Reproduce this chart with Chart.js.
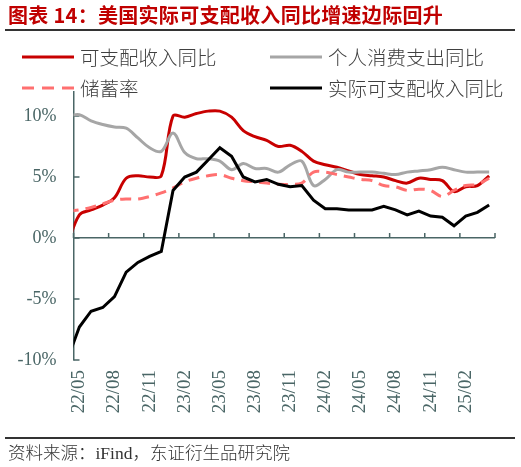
<!DOCTYPE html>
<html>
<head>
<meta charset="utf-8">
<script src="https://cdn.jsdelivr.net/npm/chart.js@4.4.1/dist/chart.umd.min.js"></script>
<style>
  html, body { margin: 0; padding: 0; background: #fff; }
  #wrap { position: relative; width: 521px; height: 467px; overflow: hidden;
          font-family: "Noto Sans CJK SC", sans-serif; }
  #chart { position: absolute; left: 0; top: 0; }
  .title { position: absolute; left: 8px; top: 3px; font-size: 20px; font-weight: 700;
           color: #c00000; white-space: nowrap; line-height: 24px; letter-spacing: 0.3px; }
  .rule { position: absolute; left: 5px; width: 510px; height: 1.5px; background: #333; }
  .leg { position: absolute; font-size: 19.5px; font-weight: 300; color: #404040;
         line-height: 24px; white-space: nowrap; }
  .swatch { position: absolute; }
  .source { position: absolute; left: 8px; top: 441px; font-size: 17.5px; font-weight: 300; color: #333;
            line-height: 22px; white-space: nowrap; }
</style>
</head>
<body>
<div id="wrap">
  <canvas id="chart" width="521" height="467"></canvas>
  <div class="title">图表 14：美国实际可支配收入同比增速边际回升</div>
  <div class="rule" style="top:29px"></div>
  <div id="legend"></div>
  <div class="rule" style="top:437px"></div>
  <div class="source">资料来源：<span style="font-family:'Liberation Serif',serif">iFind</span>，东证衍生品研究院</div>
</div>
<script>
// monthly, 22/04 .. 25/04 (22/04 sits just left of the plot and gets clipped)
const months = [
  '22/04', '22/05', '22/06', '22/07', '22/08', '22/09', '22/10', '22/11', '22/12',
  '23/01', '23/02', '23/03', '23/04', '23/05', '23/06', '23/07', '23/08', '23/09', '23/10', '23/11', '23/12',
  '24/01', '24/02', '24/03', '24/04', '24/05', '24/06', '24/07', '24/08', '24/09', '24/10', '24/11', '24/12',
  '25/01', '25/02', '25/03', '25/04'
];

const seriesNames = ['可支配收入同比', '个人消费支出同比', '储蓄率', '实际可支配收入同比'];

const dpiYoy = [
  -0.5, 1.9, 2.3, 2.7, 3.3, 4.9, 5.1, 5.0, 5.1,
  10.0, 9.9, 10.2, 10.4, 10.4, 9.9, 8.8, 8.3, 8.0, 7.5, 7.6, 7.1,
  6.3, 6.0, 5.8, 5.5, 5.2, 5.1, 5.0, 4.7, 4.5, 4.9, 4.8, 4.7,
  3.8, 4.2, 4.3, 5.1
];

const pceYoy = [
  10.0, 10.1, 9.6, 9.3, 9.1, 9.0, 8.2, 7.4, 7.1,
  8.6, 7.0, 6.5, 6.5, 6.3, 5.6, 6.1, 5.7, 5.7, 5.4, 6.0, 6.3,
  4.3, 4.8, 5.6, 5.4, 5.4, 5.4, 5.3, 5.2, 5.4, 5.5, 5.6, 5.8,
  5.6, 5.4, 5.4, 5.4
];

const savingRate = [
  2.2, 2.3, 2.5, 2.8, 3.1, 3.2, 3.2, 3.4, 3.7,
  4.1, 4.6, 4.9, 5.1, 5.2, 4.9, 4.7, 4.6, 4.5, 4.4, 4.4, 4.5,
  5.4, 5.4, 5.2, 5.0, 4.8, 4.7, 4.3, 4.2, 3.9, 4.0, 3.9, 3.4,
  3.9, 4.3, 4.4, 4.9
];

const realDpiYoy = [
  -9.9, -7.3, -6.0, -5.7, -4.8, -2.8, -2.0, -1.5, -1.1,
  3.9, 5.0, 5.4, 6.4, 7.4, 6.7, 5.0, 4.6, 4.8, 4.4, 4.2, 4.3,
  3.1, 2.4, 2.4, 2.3, 2.3, 2.3, 2.6, 2.3, 1.9, 2.2, 1.8, 1.7,
  1.0, 1.8, 2.1, 2.7
];

const yTicks = [-10, -5, 0, 5, 10];

const AXIS = '#4a6666';
const colors = ['#c80000', '#a6a6a6', '#ff7070', '#000000'];
const dashes = [[], [], [11, 7], []];

// x position: 22/05 = 0
const toPoints = (values) => values.map((v, k) => ({ x: k - 1, y: v }));

// legend (2 x 2)
const legendSlots = [
  { left: 22, top: 57 }, { left: 270, top: 57 },
  { left: 22, top: 88 }, { left: 270, top: 88 },
];
const legendEl = document.getElementById('legend');
seriesNames.forEach((name, i) => {
  const slot = legendSlots[i];
  const dash = dashes[i].length ? `stroke-dasharray="12 8"` : '';
  legendEl.insertAdjacentHTML('beforeend', `
    <svg class="swatch" width="52" height="6" style="left:${slot.left}px;top:${slot.top - 3}px">
      <line x1="0" y1="3" x2="52" y2="3" stroke="${colors[i]}" stroke-width="3" ${dash}/>
    </svg>
    <div class="leg" style="left:${slot.left + 58}px;top:${slot.top - 12}px">${name}</div>`);
});

const tickMarks = {
  id: 'tickMarks',
  beforeDatasetsDraw(chart) {
    const { ctx } = chart;
    const { x, y } = chart.scales;
    const y0 = y.getPixelForValue(0);
    ctx.save();
    ctx.strokeStyle = AXIS;
    ctx.lineWidth = 1.5;
    ctx.beginPath();
    yTicks.forEach((v) => {
      const py = y.getPixelForValue(v);
      ctx.moveTo(x.left, py);
      ctx.lineTo(x.left + 6, py);
    });
    for (let v = x.min; v <= x.max + 0.01; v += 3) {
      const px = x.getPixelForValue(v);
      ctx.moveTo(px, y0);
      ctx.lineTo(px, y0 - 5);
    }
    ctx.stroke();
    ctx.restore();
  },
};

const series = [dpiYoy, pceYoy, savingRate, realDpiYoy];

new Chart(document.getElementById('chart'), {
  type: 'line',
  data: {
    datasets: series.map((values, i) => ({
      label: seriesNames[i],
      data: toPoints(values),
      borderColor: colors[i],
      borderWidth: 3,
      borderDash: dashes[i],
      pointRadius: 0,
      tension: i === 3 ? 0 : 0.35,
      fill: false,
      clip: 0,
      order: 4 - i,
    })),
  },
  options: {
    responsive: false,
    animation: false,
    layout: { padding: { left: 0, right: 26, top: 91.6, bottom: 0 } },
    plugins: {
      legend: { display: false },
      tooltip: { enabled: false },
    },
    scales: {
      x: {
        type: 'linear',
        min: -0.5,
        max: 35.5,
        afterBuildTicks: (scale) => {
          const ticks = [];
          for (let k = 1; k < months.length - 2; k += 3) ticks.push({ value: k - 1 });
          scale.ticks = ticks;
        },
        afterFit: (scale) => { scale.height = 107; },
        border: { display: false },
        grid: { display: false, drawTicks: false },
        ticks: {
          autoSkip: false,
          maxRotation: 90,
          minRotation: 90,
          padding: 10,
          color: AXIS,
          font: { family: 'Liberation Serif', size: 19 },
          callback: (value) => months[value + 1],
        },
      },
      y: {
        min: -10,
        max: 12,
        afterFit: (scale) => { scale.width = 73.5; },
        border: { display: true, color: AXIS, width: 1.5 },
        grid: {
          drawTicks: false,
          lineWidth: 1.5,
          color: (c) => (c.tick && c.tick.value === 0 ? AXIS : 'rgba(0,0,0,0)'),
        },
        ticks: {
          stepSize: 5,
          includeBounds: false,
          padding: 17,
          color: AXIS,
          font: { family: 'Liberation Serif', size: 18 },
          callback: (value) => value + '%',
        },
      },
    },
  },
  plugins: [tickMarks],
});
</script>
</body>
</html>
